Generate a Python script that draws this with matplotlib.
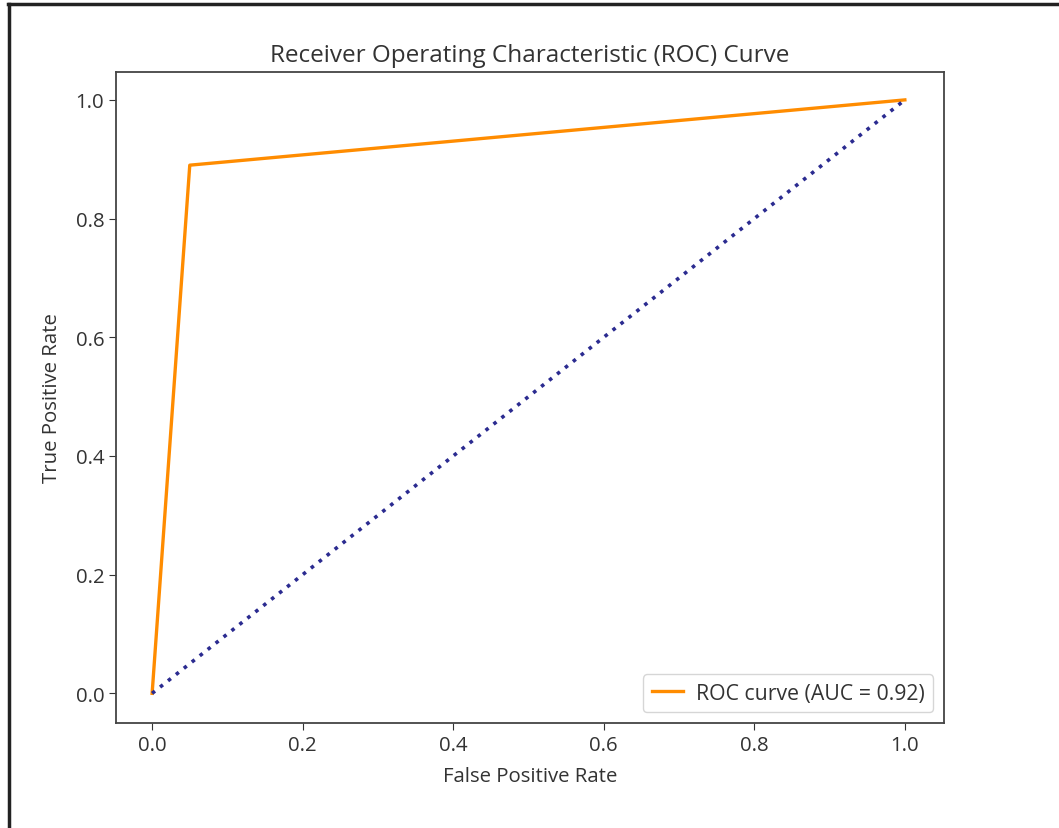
import matplotlib.pyplot as plt
from matplotlib.lines import Line2D

plt.rcParams['font.family'] = ['Open Sans', 'DejaVu Sans']

# ROC curve points
fpr = [0.0, 0.05, 1.0]
tpr = [0.0, 0.89, 1.0]
roc_auc = 0.92

# chance line
chance_x = [0.0, 1.0]
chance_y = [0.0, 1.0]

fig = plt.figure(figsize=(10.59, 8.29), dpi=100)
ax = fig.add_axes([116 / 1059, 1 - 724 / 829, (944 - 116) / 1059, (724 - 73) / 829])

ax.plot(fpr, tpr, color='darkorange', lw=2.4, label='ROC curve (AUC = %0.2f)' % roc_auc)
ax.plot(chance_x, chance_y, color='#2b2b90', lw=2.6, linestyle=(0, (1, 1.8)))

ax.set_xlim(-0.048, 1.052)
ax.set_ylim(-0.05, 1.047)
ax.set_xticks([0.0, 0.2, 0.4, 0.6, 0.8, 1.0])
ax.set_yticks([0.0, 0.2, 0.4, 0.6, 0.8, 1.0])
ax.tick_params(labelsize=14.7, colors='#333333', length=5)
for s in ax.spines.values():
    s.set_color('#444444')
    s.set_linewidth(1.3)

ax.set_xlabel('False Positive Rate', fontsize=14.7, color='#333333', labelpad=8)
ax.set_ylabel('True Positive Rate', fontsize=14.7, color='#333333', labelpad=10)
ax.set_title('Receiver Operating Characteristic (ROC) Curve', fontsize=17.5, color='#333333', pad=8)
leg = ax.legend(loc='lower right', fontsize=15.3, handlelength=1.5, handletextpad=0.6)
for t in leg.get_texts():
    t.set_color('#333333')

# screenshot frame (top and left edges)
fig.add_artist(Line2D([8 / 1059, 1.0], [1 - 5 / 829, 1 - 5 / 829], color='#222222', lw=2.5))
fig.add_artist(Line2D([9 / 1059, 9 / 1059], [0.0, 1 - 5 / 829], color='#222222', lw=2.5))

fig.savefig('out.png', dpi=100)
